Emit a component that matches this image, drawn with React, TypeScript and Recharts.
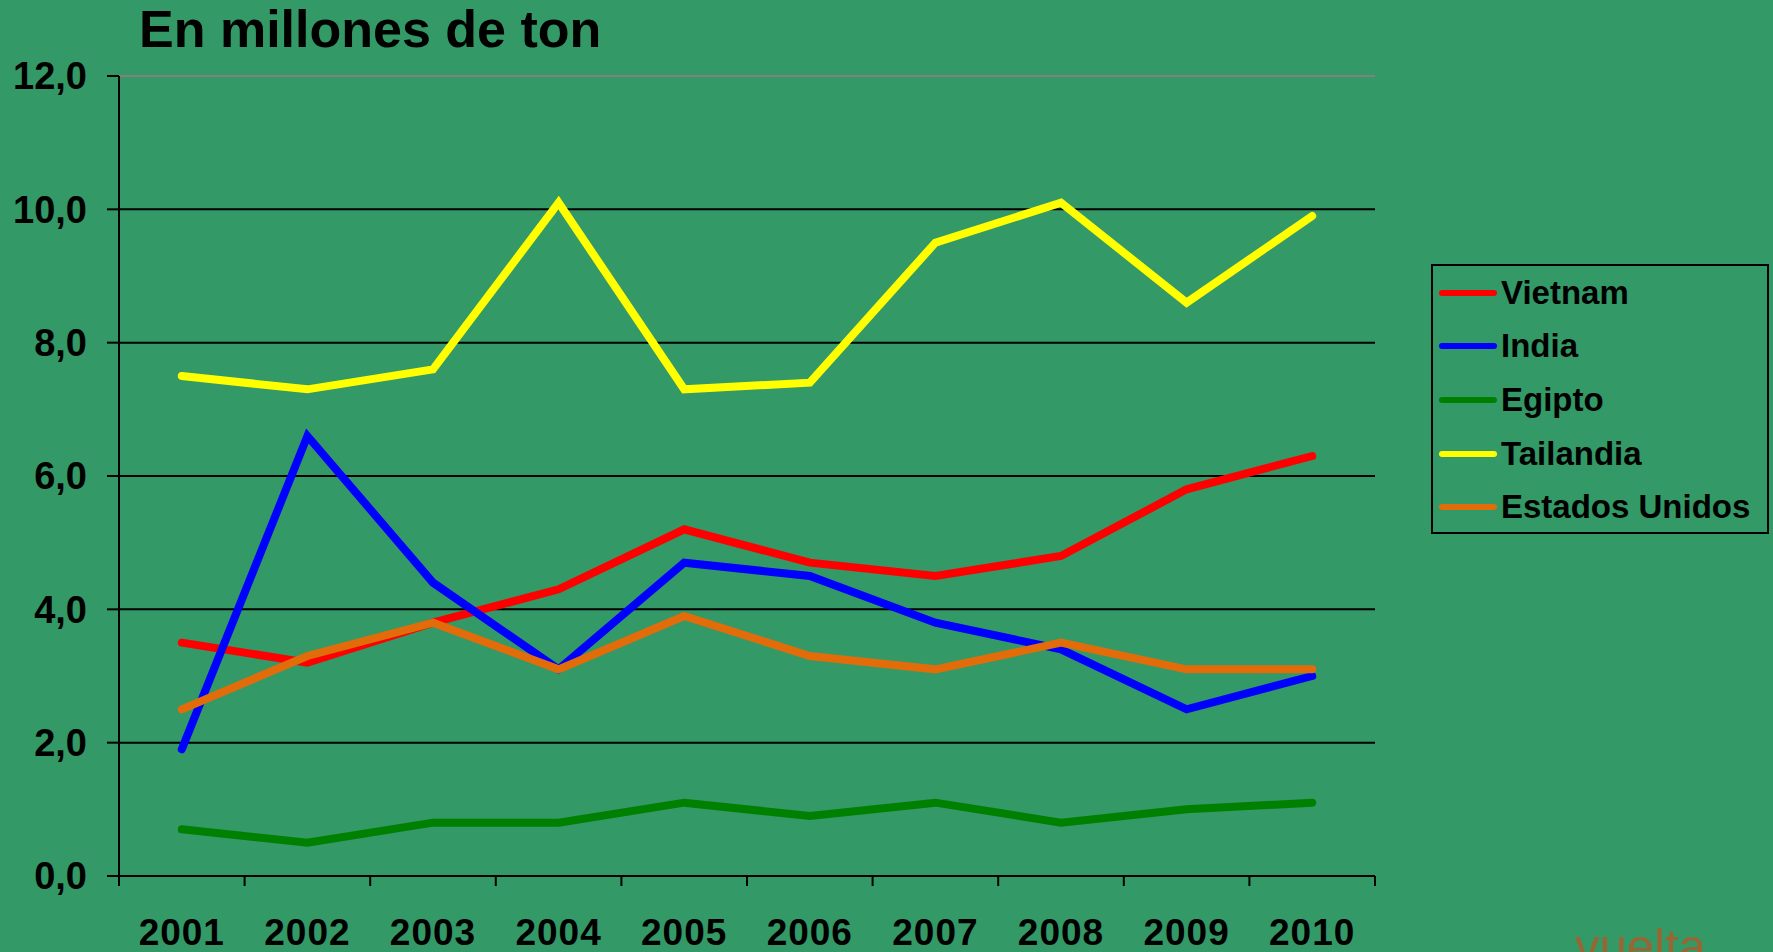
import React from 'react'
import { LineChart, Line, XAxis, YAxis, CartesianGrid, Legend, ReferenceLine } from 'recharts'

const years = ['2001', '2002', '2003', '2004', '2005', '2006', '2007', '2008', '2009', '2010']
const vietnam = [3.5, 3.2, 3.8, 4.3, 5.2, 4.7, 4.5, 4.8, 5.8, 6.3]
const india = [1.9, 6.6, 4.4, 3.1, 4.7, 4.5, 3.8, 3.4, 2.5, 3.0]
const egipto = [0.7, 0.5, 0.8, 0.8, 1.1, 0.9, 1.1, 0.8, 1.0, 1.1]
const tailandia = [7.5, 7.3, 7.6, 10.1, 7.3, 7.4, 9.5, 10.1, 8.6, 9.9]
const estadosUnidos = [2.5, 3.3, 3.8, 3.1, 3.9, 3.3, 3.1, 3.5, 3.1, 3.1]
const yTicks = [0, 2, 4, 6, 8, 10, 12]

const series = [
  { key: 'vietnam', name: 'Vietnam', color: '#FF0000' },
  { key: 'india', name: 'India', color: '#0000FF' },
  { key: 'egipto', name: 'Egipto', color: '#008000' },
  { key: 'tailandia', name: 'Tailandia', color: '#FFFF00' },
  { key: 'eeuu', name: 'Estados Unidos', color: '#E36C0A' },
]

const data = years.map((year, i) => ({
  year,
  vietnam: vietnam[i],
  india: india[i],
  egipto: egipto[i],
  tailandia: tailandia[i],
  eeuu: estadosUnidos[i],
}))

const W = 1773
const H = 952
const margin = { top: 76, right: 398, bottom: 0, left: 0 }
const yAxisW = 119
const half = (W - margin.right - margin.left - yAxisW) / years.length / 2
const font = '"Liberation Sans", Arial, sans-serif'

function XTick(props: any) {
  const { x, y, payload, index } = props
  return (
    <g>
      <line x1={x - half} x2={x - half} y1={y} y2={y + 10} stroke="#000" strokeWidth={2} />
      {index === years.length - 1 && (
        <line x1={x + half} x2={x + half} y1={y} y2={y + 10} stroke="#000" strokeWidth={2} />
      )}
      <text x={x} y={y + 69} textAnchor="middle" fontFamily={font} fontWeight="bold" fontSize={37} letterSpacing={1} fill="#000">
        {payload.value}
      </text>
    </g>
  )
}

function LegendBox(props: any) {
  const items = [...(props.payload || [])].sort(
    (a: any, b: any) => series.findIndex((s) => s.name === a.value) - series.findIndex((s) => s.name === b.value)
  )
  return (
    <div style={{ width: 338, height: 270, boxSizing: 'border-box', border: '2px solid #000', paddingLeft: 6 }}>
      {items.map((p: any) => (
        <div key={p.value} style={{ height: 53.6, display: 'flex', alignItems: 'center' }}>
          <svg width={58} height={10} style={{ display: 'block' }}>
            <line x1={3} x2={55} y1={5} y2={5} stroke={p.color} strokeWidth={6} strokeLinecap="round" />
          </svg>
          <span style={{ marginLeft: 4, fontFamily: font, fontWeight: 'bold', fontSize: 33, color: '#000' }}>{p.value}</span>
        </div>
      ))}
    </div>
  )
}

export default function App() {
  return (
    <div style={{ position: 'absolute', left: 0, top: 0, width: W, height: H, background: '#339966', overflow: 'hidden' }}>
      <div
        style={{
          position: 'absolute',
          left: 139,
          top: 3,
          fontFamily: font,
          fontWeight: 'bold',
          fontSize: 52,
          lineHeight: '52px',
          color: '#000',
          whiteSpace: 'nowrap',
        }}
      >
        En millones de ton
      </div>
      <LineChart width={W} height={H} data={data} margin={margin}>
        <CartesianGrid vertical={false} stroke="#000" strokeWidth={2} />
        <ReferenceLine y={12} stroke="#808080" strokeWidth={2} />
        <XAxis
          dataKey="year"
          height={76}
          interval={0}
          padding={{ left: half, right: half }}
          tickLine={false}
          tickSize={0}
          tickMargin={0}
          axisLine={{ stroke: '#000', strokeWidth: 2 }}
          tick={<XTick />}
        />
        <YAxis
          width={yAxisW}
          domain={[0, 12]}
          ticks={yTicks}
          interval={0}
          tickFormatter={(v: number) => v.toFixed(1).replace('.', ',')}
          tick={{ fill: '#000', fontSize: 38, fontWeight: 'bold', fontFamily: font }}
          tickSize={12}
          tickMargin={20}
          tickLine={{ stroke: '#000', strokeWidth: 2 }}
          axisLine={{ stroke: '#000', strokeWidth: 2 }}
        />
        <YAxis
          yAxisId="right"
          orientation="right"
          width={0}
          domain={[0, 12]}
          tick={false}
          tickLine={false}
          axisLine={{ stroke: '#808080', strokeWidth: 2 }}
        />
        <Legend
          layout="vertical"
          align="center"
          verticalAlign="middle"
          wrapperStyle={{ left: 1431, top: 264, width: 338, height: 270 }}
          content={<LegendBox />}
        />
        {series.map((s) => (
          <Line
            key={s.key}
            dataKey={s.key}
            name={s.name}
            stroke={s.color}
            strokeWidth={8}
            strokeLinecap="round"
            strokeLinejoin="miter"
            dot={false}
            isAnimationActive={false}
          />
        ))}
      </LineChart>
      <div
        style={{
          position: 'absolute',
          left: 1575,
          top: 922,
          fontFamily: font,
          fontSize: 49,
          lineHeight: '49px',
          color: '#996633',
          whiteSpace: 'nowrap',
        }}
      >
        vuelta
      </div>
    </div>
  )
}
